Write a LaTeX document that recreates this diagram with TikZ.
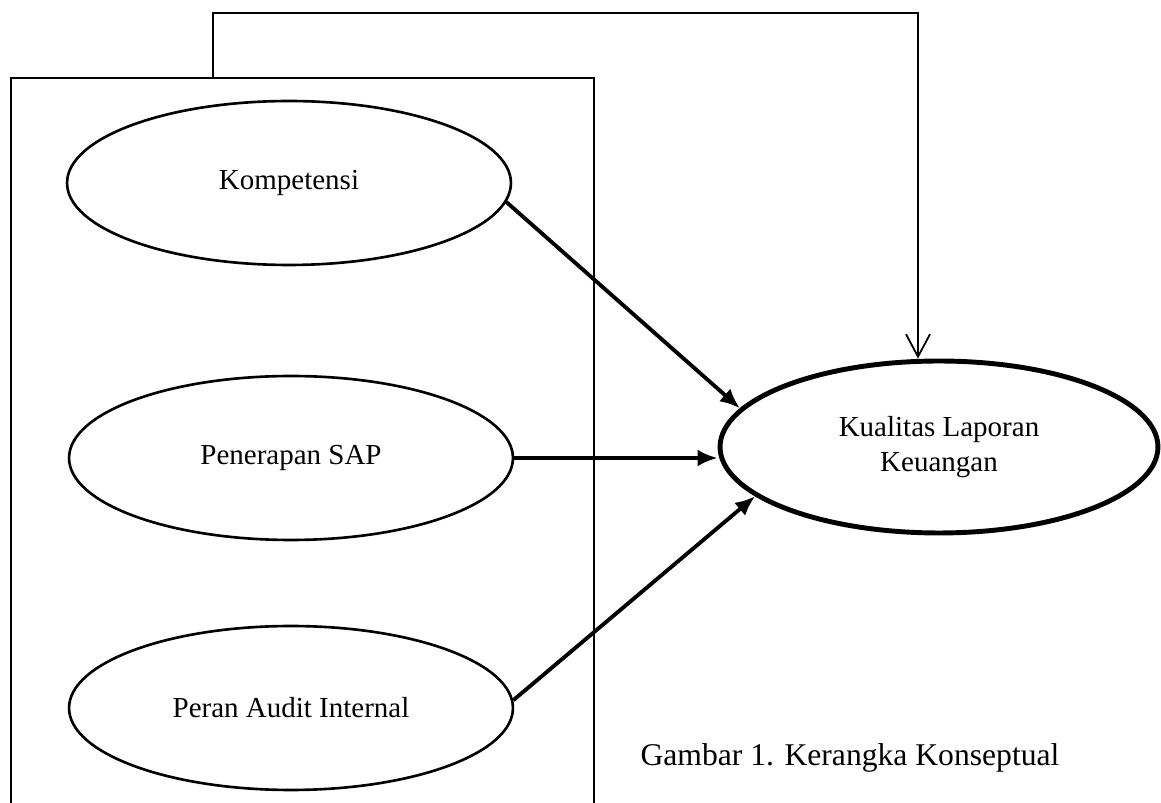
\documentclass[tikz,border=0pt]{standalone}
\usepackage{fontspec}
\setmainfont{Liberation Serif}
\usetikzlibrary{shapes.geometric, arrows.meta, positioning}

\tikzset{
	var/.style={ellipse, draw, line width=1.5pt, minimum width=8.88cm, minimum height=3.28cm, font=\fontsize{16.5}{20.4}\selectfont},
	dep/.style={var, line width=2.8pt, minimum width=8.76cm, minimum height=3.44cm, align=center},
	effect/.style={line width=2.2pt, -{Latex[length=4mm,width=3.4mm]}},
	frameline/.style={line width=1.3pt},
	fbline/.style={line width=1pt, -{Straight Barb[length=4.5mm,width=4.8mm]}}
}

\begin{document}
\begin{tikzpicture}[x=0.02cm, y=-0.02cm]
				\useasboundingbox (0,0) rectangle (1161,803);
				\node[var] (komp) at (289,183) {Kompetensi};
				\node[var] (sap) at (291,458) {Penerapan SAP};
				\node[var] (audit) at (291,708) {Peran Audit Internal};
				\node[dep] (kual) at (939,447) {Kualitas Laporan\\Keuangan};
				\node[font=\fontsize{18}{22}\selectfont] (cap) at (850,758) {Gambar 1. Kerangka Konseptual};
				\draw[frameline] (11,803) |- (594,78) -- (594,803);
				\coordinate (fbstart) at (213,78);
				\coordinate (fbcorner) at (918,13);
				\draw[fbline] (fbstart) |- (fbcorner) -- (fbcorner |- kual.north);
				\draw[effect] (komp.-5) -- (kual.169);
				\draw[effect] (sap.east) -- (sap.east -| kual.west);
				\draw[effect] (audit.2) -- (kual.195);
			\end{tikzpicture}
\end{document}
